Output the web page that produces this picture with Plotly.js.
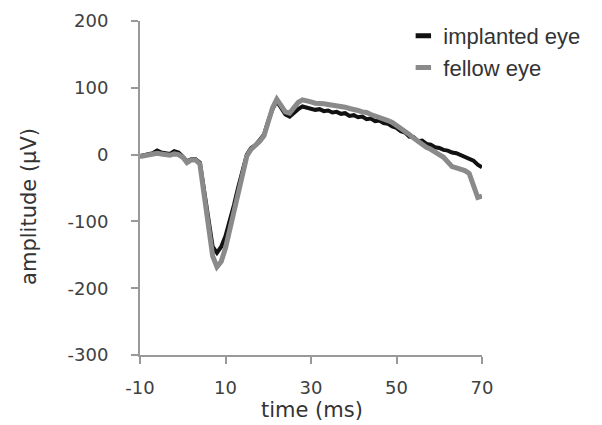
<!DOCTYPE html>
<html>
<head>
<meta charset="utf-8">
<script src="https://cdn.plot.ly/plotly-3.0.1.min.js"></script>
<style>html,body{margin:0;padding:0;background:#fff;}#chart{width:602px;height:425px;}</style>
</head>
<body>
<div id="chart"></div>
<script>
const timeMs = [-10,-9,-8,-7,-6,-5,-4,-3,-2,-1,0,1,2,3,4,5,6,7,8,9,10,11,12,13,14,15,16,17,18,19,20,21,22,23,24,25,26,27,28,29,30,31,32,33,34,35,36,37,38,39,40,41,42,43,44,45,46,47,48,49,50,51,52,53,54,55,56,57,58,59,60,61,62,63,64,65,66,67,68,69,70];
const implantedEye = [-2,-1,0,2,6,3,2,1,5,3,-3,-10,-7,-7,-12,-55,-105,-138,-147,-138,-122,-100,-75,-48,-22,0,10,14,22,30,50,68,80,70,60,57,63,68,72,70,69,67,68,65,66,63,64,61,62,58,59,56,57,53,54,50,51,47,46,42,40,35,33,27,26,20,21,16,15,11,10,7,6,3,2,-1,-3,-7,-9,-15,-19];
const fellowEye = [-3,-2,-1,0,2,1,0,-1,1,0,-4,-12,-8,-8,-14,-62,-115,-152,-168,-160,-140,-112,-82,-55,-28,-2,8,13,20,28,50,70,83,73,64,62,70,78,82,81,79,77,77,76,75,74,74,72,71,69,68,66,64,63,60,58,56,54,51,48,44,40,35,30,25,20,15,11,8,5,0,-4,-12,-18,-20,-22,-24,-28,-45,-64,-62];
const seriesNames = ['implanted eye', 'fellow eye'];
const xTicks = [-10, 10, 30, 50, 70];
const yTicks = [-300, -200, -100, 0, 100, 200];
const xTitle = 'time (ms)';
const yTitle = 'amplitude (μV)';

const colBlack = '#111111';
const colGray = '#8a8a8a';

const traces = [
  {x: timeMs, y: implantedEye, mode: 'lines', line: {color: colBlack, width: 4}, showlegend: false, hoverinfo: 'skip'},
  {x: timeMs, y: fellowEye, mode: 'lines', line: {color: colGray, width: 5}, showlegend: false, hoverinfo: 'skip'},
  {x: [null], y: [null], mode: 'markers', name: seriesNames[0], marker: {symbol: 'line-ew-open', size: 11, color: colBlack, line: {color: colBlack, width: 5}}},
  {x: [null], y: [null], mode: 'markers', name: seriesNames[1], marker: {symbol: 'line-ew-open', size: 11, color: colGray, line: {color: colGray, width: 5}}}
];

const axisCol = '#999999';
const tickFont = {family: 'DejaVu Sans, sans-serif', size: 18, color: '#404040'};
const titleFont = {family: 'DejaVu Sans, sans-serif', size: 21, color: '#333333'};
const layout = {
  width: 602, height: 425,
  margin: {l: 140, r: 120, t: 21, b: 70, pad: 0},
  paper_bgcolor: '#ffffff', plot_bgcolor: '#ffffff',
  font: tickFont,
  showlegend: true,
  legend: {x: 0.77, xanchor: 'left', y: 1.018, yanchor: 'top', bgcolor: 'rgba(0,0,0,0)',
           font: {family: 'Liberation Sans, Arial, sans-serif', size: 22, color: '#333333'},
           tracegroupgap: 0, itemsizing: 'trace'},
  xaxis: {range: [-10, 70], tickvals: xTicks, ticktext: xTicks.map(String), showgrid: false, zeroline: false,
          showline: true, linecolor: axisCol, linewidth: 2, ticks: 'outside', ticklen: 7, tickwidth: 2, tickcolor: axisCol,
          tickfont: tickFont, ticklabelstandoff: 8},
  yaxis: {range: [-300, 200], tickvals: yTicks, ticktext: yTicks.map(String), showgrid: false, zeroline: false,
          showline: true, linecolor: axisCol, linewidth: 2, ticks: 'outside', ticklen: 7, tickwidth: 2, tickcolor: axisCol,
          tickfont: tickFont, ticklabelstandoff: 19},
  annotations: [
    {text: xTitle, xref: 'paper', yref: 'paper', x: 0.503, y: -0.165, xanchor: 'center', yanchor: 'middle', showarrow: false, font: titleFont},
    {text: yTitle, xref: 'paper', yref: 'paper', x: -0.325, y: 0.446, xanchor: 'center', yanchor: 'middle', textangle: -90, showarrow: false, font: titleFont}
  ]
};

Plotly.newPlot('chart', traces, layout, {staticPlot: true, displayModeBar: false});
</script>
</body>
</html>
